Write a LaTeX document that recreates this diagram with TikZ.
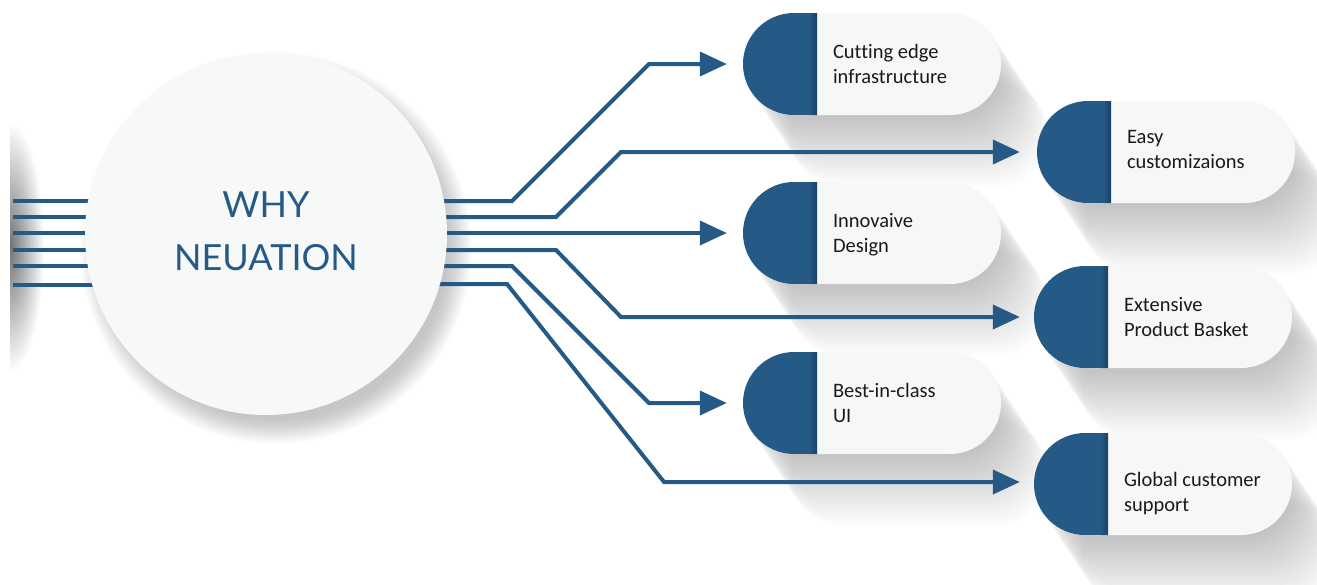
\documentclass[tikz,border=0pt]{standalone}
\usepackage{fontspec}
\setmainfont[Ligatures=NoCommon]{Carlito}
\newfontfamily\headfont{Lato}
\usetikzlibrary{arrows.meta,shapes.misc,calc}
\definecolor{nblue}{HTML}{255A87}
\definecolor{ndark}{HTML}{1B4063}
\definecolor{pillbg}{HTML}{F6F8F8}
\definecolor{circbg}{HTML}{F7F9F9}
\definecolor{txt}{HTML}{1A1A1A}
\pgfdeclarelayer{shadowlayer}
\pgfdeclarelayer{connlayer}
\pgfsetlayers{shadowlayer,connlayer,main}
\tikzset{
  conn/.style={draw=nblue, line width=4pt, -{Triangle[length=27pt,width=24pt]}},
  plainline/.style={draw=nblue, line width=4pt},
  pill/.style={rounded rectangle, minimum width=258pt, minimum height=102pt, inner sep=0pt, fill=pillbg,
    path picture={
      \fill[nblue] (path picture bounding box.south west) rectangle ([xshift=74pt]path picture bounding box.north west);
      \shade[left color=nblue, right color=ndark] ([xshift=66pt]path picture bounding box.south west) rectangle ([xshift=74pt]path picture bounding box.north west);
    }},
  pilltext/.style={anchor=west, align=left, font=\fontsize{20.5}{25}\selectfont, text=txt, inner sep=0pt},
  hub/.style={circle, minimum size=362pt, inner sep=0pt, fill=circbg},
  title/.style={align=center, font=\headfont\fontsize{36}{53}\selectfont, text=nblue, inner sep=0pt},
}
\begin{document}
\begin{tikzpicture}[x=1pt, y=-1pt]
\useasboundingbox (0,0) rectangle (1317,584);
\clip (0,0) rectangle (1317,584);

% hub
\node[hub] (c) at (266,234) {};
\node[title] (t) at (266,231) {WHY\\NEUATION};

% pills
\node[pill] (p1) at (872,64) {};
\node[pill] (p2) at (1166,152) {};
\node[pill] (p3) at (872,233) {};
\node[pill] (p4) at (1163,317) {};
\node[pill] (p5) at (872,403) {};
\node[pill] (p6) at (1163,484) {};

\node[pilltext] (t1) at ([xshift=90pt,yshift=-2pt]p1.west) {\strut Cutting edge\\infrastructure\strut};
\node[pilltext] (t2) at ([xshift=90pt,yshift=1pt]p2.west) {\strut Easy\\customizaions\strut};
\node[pilltext] (t3) at ([xshift=90pt,yshift=-2pt]p3.west) {\strut Innovaive\\Design\strut};
\node[pilltext] (t4) at ([xshift=90pt,yshift=-2pt]p4.west) {\strut Extensive\\Product Basket\strut};
\node[pilltext] (t5) at ([xshift=90pt,yshift=-2pt]p5.west) {\strut Best-in-class\\UI\strut};
\node[pilltext] (t6) at ([xshift=90pt,yshift=-10pt]p6.west) {\strut Global customer\\support\strut};

% left stubs
\coordinate (l1) at (13,201);
\coordinate (l2) at (13,217);
\coordinate (l3) at (13,233);
\coordinate (l4) at (13,250);
\coordinate (l5) at (13,266);
\coordinate (l6) at (13,285);

\begin{pgfonlayer}{connlayer}
  \foreach \l in {l1,l2,l3,l4,l5,l6}{
    \draw[plainline] (\l) -- (c.center |- \l);
  }
  \draw[conn] ([xshift=-20pt,yshift=33pt]c.east) -- (512,201) -- (649,64) -- ([xshift=-16pt]p1.west);
  \draw[conn] ([xshift=-20pt,yshift=17pt]c.east) -- (556,217) -- (621,152) -- ([xshift=-17pt]p2.west);
  \draw[conn] ([xshift=-20pt,yshift=1pt]c.east) -- ([xshift=-16pt]p3.west);
  \draw[conn] ([xshift=-20pt,yshift=-16pt]c.east) -- (556,250) -- (621,317) -- ([xshift=-14pt]p4.west);
  \draw[conn] ([xshift=-20pt,yshift=-32pt]c.east) -- (512,266) -- (649,403) -- ([xshift=-16pt]p5.west);
  \draw[conn] ([xshift=-20pt,yshift=-50pt]c.east) -- (507,284) -- (664,482) -- ([xshift=-14pt,yshift=2pt]p6.west);
\end{pgfonlayer}

\begin{pgfonlayer}{shadowlayer}
  % left edge glow
  \begin{scope}
    \clip (10,100) rectangle (60,400);
    \shade[inner color=black!55, outer color=white] (10,247) ellipse (34 and 125);
  \end{scope}
  % hub shadow
  \foreach \k in {0,...,20}{
    \fill[black, opacity=0.012] ($(c.center)+(10,14)$) circle[radius=172pt+1.2pt*\k];
  }
  % pill long shadows
  \foreach \p in {p1,p2,p3,p4,p5,p6}{
    \foreach \i in {1,...,30}{
      \fill[black, opacity=0.006, rounded corners=50.9pt]
        ($(\p.center)+(-129+1.6*\i,-51+2.4*\i)$) rectangle ($(\p.center)+(129+1.6*\i,51+2.4*\i)$);
    }
  }
\end{pgfonlayer}
\end{tikzpicture}
\end{document}
